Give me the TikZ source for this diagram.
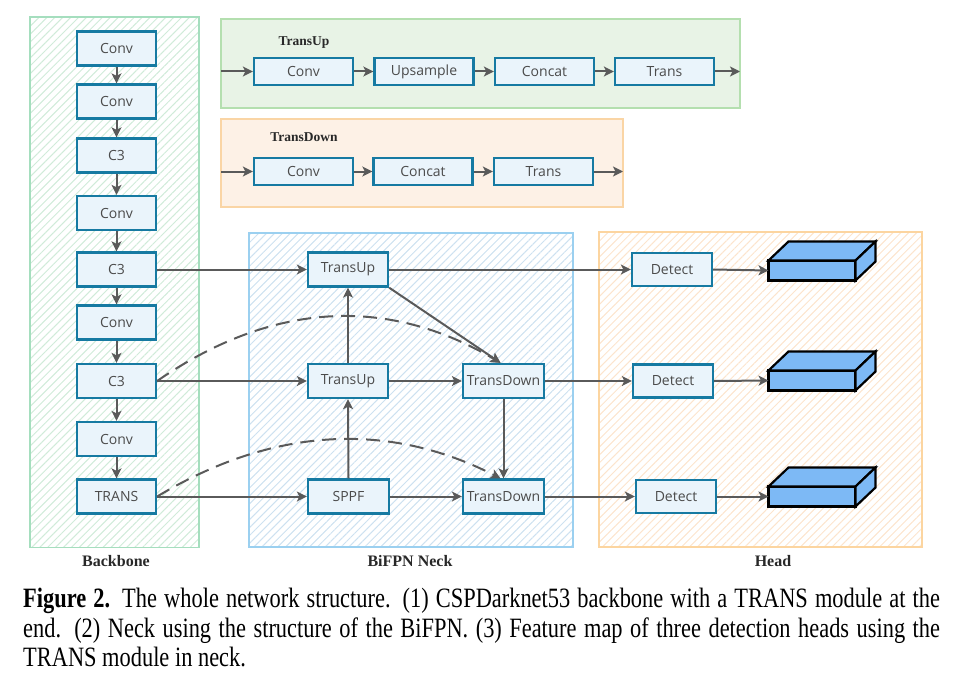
\documentclass[tikz,border=0pt]{standalone}
\usepackage{fontspec}
\setmainfont{Liberation Serif}
\newfontfamily\boxfont{Open Sans}
\usetikzlibrary{arrows.meta,patterns.meta}
\definecolor{boxblue}{RGB}{22,122,162}
\definecolor{boxfill}{RGB}{234,244,251}
\definecolor{txtgray}{RGB}{75,75,75}
\definecolor{arrgray}{RGB}{90,90,90}
\definecolor{labgray}{RGB}{40,40,40}
\definecolor{bbborder}{RGB}{165,222,190}
\definecolor{bbhatch}{RGB}{208,235,217}
\definecolor{upfill}{RGB}{232,243,230}
\definecolor{upborder}{RGB}{180,223,175}
\definecolor{dnfill}{RGB}{253,241,230}
\definecolor{dnborder}{RGB}{250,213,165}
\definecolor{nkborder}{RGB}{155,208,240}
\definecolor{nkhatch}{RGB}{205,225,240}
\definecolor{hdborder}{RGB}{252,213,160}
\definecolor{hdhatch}{RGB}{252,228,205}
\definecolor{cubeblue}{RGB}{125,185,245}
\newcommand{\featcube}[1]{%
  \draw[cubeline] (#1.north west) -- ++(20,-19) -- ++(87,0) -- (#1.north east) -- cycle;
  \draw[cubeline] (#1.north east) -- ++(20,-19) -- ++(0,20) -- (#1.south east) -- cycle;}
\begin{document}
\begin{tikzpicture}[x=1pt,y=-1pt,
  box/.style={draw=boxblue, fill=boxfill, line width=2.3pt, inner sep=0pt, text=txtgray,
    font=\boxfont\fontsize{14}{16}\selectfont, minimum width=79pt, minimum height=34pt},
  sbox/.style={box, minimum width=99pt, minimum height=27pt},
  arr/.style={draw=arrgray, line width=2pt, -{Stealth[length=10pt,width=10pt,inset=2.5pt]}},
  dasharr/.style={arr, dash pattern=on 14pt off 8pt},
  panellabel/.style={font=\bfseries\fontsize{16}{18}\selectfont, text=labgray, inner sep=0pt},
  sublabel/.style={font=\bfseries\fontsize{13.5}{16}\selectfont, text=labgray, inner sep=0pt},
  hatch/.style={pattern={Lines[angle=45,distance=5.6pt,line width=1pt]}, pattern color=#1},
  cubefront/.style={draw=black, fill=cubeblue, line width=2.2pt, minimum width=87pt,
    minimum height=20pt, inner sep=0pt, outer sep=0pt},
  cubeline/.style={draw=black, fill=cubeblue, line width=2.2pt},
  capstyle/.style={font=\fontsize{28}{30}\selectfont, inner sep=0pt, anchor=base west}
]
\useasboundingbox (0,0) rectangle (955,690);

% panels
\path[hatch=bbhatch] (30,17) rectangle (199,547.5);
\draw[draw=bbborder, line width=1.8pt] (30,17) rectangle (199,547.5);
\draw[draw=upborder, fill=upfill, line width=1.8pt] (221,19) rectangle (740,108);
\draw[draw=dnborder, fill=dnfill, line width=1.8pt] (221,119) rectangle (623,207);
\path[hatch=nkhatch] (249,233) rectangle (573,547);
\draw[draw=nkborder, line width=1.8pt] (249,233) rectangle (573,547);
\path[hatch=hdhatch] (599,232) rectangle (922,547);
\draw[draw=hdborder, line width=1.8pt] (599,232) rectangle (922,547);

\node[panellabel] (lbb) at (116,561) {Backbone};
\node[panellabel] (lnk) at (410,561) {BiFPN Neck};
\node[panellabel] (lhd) at (773,561) {Head};
\node[sublabel] (lup) at (304,43) {TransUp};
\node[sublabel] (ldn) at (304,137) {TransDown};

% backbone
\node[box] (bb1) at (116.5,48.5) {Conv};
\node[box] (bb2) at (116.5,101.5) {Conv};
\node[box] (bb3) at (116.5,155.5) {C3};
\node[box] (bb4) at (116.5,213) {Conv};
\node[box] (bb5) at (116.5,269.5) {C3};
\node[box] (bb6) at (116.5,322.5) {Conv};
\node[box] (bb7) at (116.5,381) {C3};
\node[box] (bb8) at (116.5,439) {Conv};
\node[box] (bb9) at (116.5,496.5) {TRANS};
\foreach \a/\b in {bb1/bb2,bb2/bb3,bb3/bb4,bb4/bb5,bb5/bb6,bb6/bb7,bb7/bb8,bb8/bb9}
  \draw[arr] (\a.south) -- (\b.north);

% TransUp module
\coordinate (uin) at (221,71.5);
\coordinate (uout) at (740,71.5);
\node[sbox] (u1) at (303.5,71.5) {Conv};
\node[sbox] (u2) at (424,71.5) {Upsample};
\node[sbox] (u3) at (544.5,71.5) {Concat};
\node[sbox] (u4) at (664.5,71.5) {Trans};
\draw[arr] (uin) -- (u1.west);
\draw[arr] (u1.east) -- (u2.west);
\draw[arr] (u2.east) -- (u3.west);
\draw[arr] (u3.east) -- (u4.west);
\draw[arr] (u4.east) -- (uout);

% TransDown module
\coordinate (din) at (221,171.5);
\coordinate (dout) at (623,171.5);
\node[sbox] (d1m) at (303.5,171.5) {Conv};
\node[sbox] (d2m) at (423,171.5) {Concat};
\node[sbox] (d3m) at (543.5,171.5) {Trans};
\draw[arr] (din) -- (d1m.west);
\draw[arr] (d1m.east) -- (d2m.west);
\draw[arr] (d2m.east) -- (d3m.west);
\draw[arr] (d3m.east) -- (dout);

% neck
\node[box, minimum width=80pt] (tu1) at (348,269.5) {TransUp};
\node[box, minimum width=80pt] (tu2) at (348,381) {TransUp};
\node[box, minimum width=81pt] (sppf) at (348.5,496.5) {SPPF};
\node[box, minimum width=81pt] (td1) at (503.5,381) {TransDown};
\node[box, minimum width=81pt] (td2) at (503.5,496.5) {TransDown};

% head
\node[box, minimum width=80pt, minimum height=33pt] (det1) at (672,269.5) {Detect};
\node[box, minimum width=80pt, minimum height=33pt] (det2) at (673,381) {Detect};
\node[box, minimum width=80pt, minimum height=33pt] (det3) at (676,496.5) {Detect};
\node[cubefront] (c1) at (812,270.5) {};
\node[cubefront] (c2) at (812,380.5) {};
\node[cubefront] (c3) at (812,496.5) {};
\featcube{c1}
\featcube{c2}
\featcube{c3}

% connectors
\draw[arr] (bb5.east) -- (tu1.west);
\draw[arr] (tu1.east) -- (det1.west);
\draw[arr] (bb7.east) -- (tu2.west);
\draw[arr] (tu2.east) -- (td1.west);
\draw[arr] (td1.east) -- (det2.west);
\draw[arr] (bb9.east) -- (sppf.west);
\draw[arr] (sppf.east) -- (td2.west);
\draw[arr] (td2.east) -- (det3.west);
\draw[arr] (sppf.north) -- (tu2.south);
\draw[arr] (tu2.north) -- (tu1.south);
\draw[arr] (tu1.south east) -- ([xshift=-3pt]td1.north);
\draw[arr] (td1.south) -- (td2.north);
\draw[dasharr] (bb7.east) .. controls (273,301) and (388,296) .. ([xshift=-3pt]td1.north);
\draw[dasharr] (bb9.east) .. controls (273,427) and (388,421) .. ([xshift=-3pt]td2.north);
\draw[arr] (det1.east) -- (c1.west);
\draw[arr] (det2.east) -- (c2.west);
\draw[arr] (det3.east) -- (c3.west);

% caption
\node[capstyle] (cap1) at (23,607.5) {\scalebox{0.8}[1]{\makebox[1146pt][s]{\textbf{Figure 2.} The whole network structure. (1) CSPDarknet53 backbone with a TRANS module at the}}};
\node[capstyle] (cap2) at (23,637) {\scalebox{0.8}[1]{\makebox[1146pt][s]{end. (2) Neck using the structure of the BiFPN. (3) Feature map of three detection heads using the}}};
\node[capstyle] (cap3) at (23,666.5) {\scalebox{0.8}[1]{TRANS module in neck.}};
\end{tikzpicture}
\end{document}
